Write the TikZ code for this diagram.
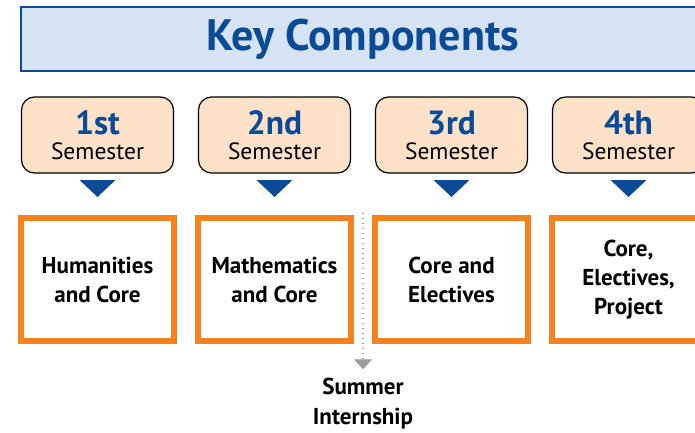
\documentclass[tikz,border=0pt]{standalone}
\usepackage{fontspec}
\setmainfont{PT Sans}
\usetikzlibrary{arrows.meta, positioning, calc}

\definecolor{keyblue}{HTML}{0B4A94}
\definecolor{titlefill}{HTML}{D5E3F5}
\definecolor{semfill}{HTML}{FDE1C8}
\definecolor{courseorange}{HTML}{F5821F}
\definecolor{tipgray}{HTML}{9A9A9A}

\tikzset{
  titlebox/.style={draw=keyblue, fill=titlefill, line width=1.5pt, minimum width=683pt,
    minimum height=64pt, outer sep=0pt, text=keyblue, font=\fontsize{44}{44}\selectfont\bfseries},
  sembox/.style={draw=black, fill=semfill, line width=1.2pt, rounded corners=13pt,
    minimum width=152pt, minimum height=76pt, outer sep=0pt, align=center,
    font=\fontsize{23.5}{25}\selectfont},
  coursebox/.style={draw=courseorange, line width=6.5pt, minimum width=153pt,
    minimum height=123pt, outer sep=0pt, align=center, font=\fontsize{23}{29}\selectfont\bfseries},
  tipfill/.style={fill=keyblue},
  internship/.style={draw=tipgray, line width=1.2pt, dash pattern=on 1.2pt off 3.8pt,
    -{Triangle[width=18pt, length=10pt, fill=tipgray]}}
}
\newcommand{\semnum}[1]{{\fontsize{33.5}{33.5}\selectfont\bfseries\color{keyblue}#1}}

\begin{document}
\begin{tikzpicture}[x=1pt, y=1pt, node distance=25pt]
  \useasboundingbox (0,0) rectangle (695,432);

  % Title
  \node[titlebox] (title) at (362.5,393) {Key Components};

  % Semesters
  \node[sembox] (sem1) at (97.5,297) {\semnum{1st}\\Semester};
  \node[sembox, right=of sem1] (sem2) {\semnum{2nd}\\Semester};
  \node[sembox, right=of sem2] (sem3) {\semnum{3rd}\\Semester};
  \node[sembox, right=of sem3] (sem4) {\semnum{4th}\\Semester};

  % Courses
  \node[coursebox, below=45pt of sem1] (course1) {Humanities\\and Core};
  \node[coursebox, below=45pt of sem2] (course2) {Mathematics\\and Core};
  \node[coursebox, below=45pt of sem3] (course3) {Core and\\Electives};
  \node[coursebox, below=45pt of sem4] (course4) {Core,\\Electives,\\Project};

  % Markers
  \fill[tipfill] ([xshift=-18pt, yshift=-7pt]sem1.south) -- ++(36,0) -- ++(-18,-17) -- cycle;
  \fill[tipfill] ([xshift=-18pt, yshift=-7pt]sem2.south) -- ++(36,0) -- ++(-18,-17) -- cycle;
  \fill[tipfill] ([xshift=-18pt, yshift=-7pt]sem3.south) -- ++(36,0) -- ++(-18,-17) -- cycle;
  \fill[tipfill] ([xshift=-18pt, yshift=-7pt]sem4.south) -- ++(36,0) -- ++(-18,-17) -- cycle;

  % Summer internship
  \coordinate (gap) at ($(course2.north east)!0.5!(course3.north west) + (0,5)$);
  \node[font=\fontsize{23}{30}\selectfont\bfseries, align=center, inner sep=0pt] (summer)
    at (363,28) {Summer\\Internship};
  \draw[internship] (gap) -- ([yshift=9pt]summer.north);

\end{tikzpicture}
\end{document}
